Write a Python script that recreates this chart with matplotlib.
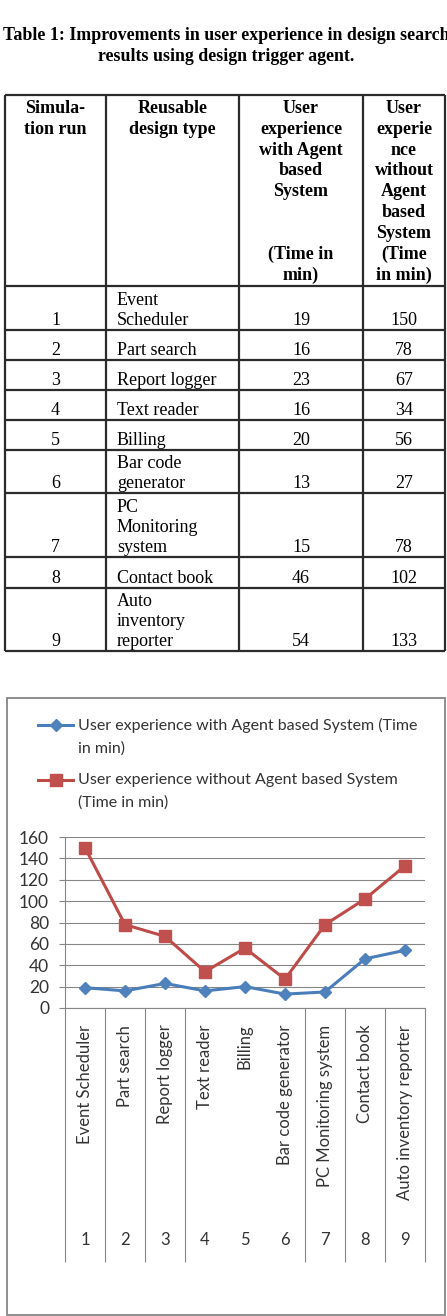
import textwrap
import numpy as np
import matplotlib
matplotlib.use("Agg")
import matplotlib.pyplot as plt
from matplotlib.patches import Rectangle
from matplotlib.lines import Line2D
from matplotlib.legend_handler import HandlerLine2D

# table / chart data
runs = [1, 2, 3, 4, 5, 6, 7, 8, 9]
design_types = ["Event\nScheduler", "Part search", "Report logger", "Text reader", "Billing",
                "Bar code\ngenerator", "PC\nMonitoring\nsystem", "Contact book",
                "Auto\ninventory\nreporter"]
with_agent = [19, 16, 23, 16, 20, 13, 15, 46, 54]
without_agent = [150, 78, 67, 34, 56, 27, 78, 102, 133]

title = ("Table 1: Improvements in user experience in design search\n"
         "results using design trigger agent.")
headers = ["Simula-\ntion run",
           "Reusable\ndesign type",
           "User\nexperience\nwith Agent\nbased\nSystem\n\n\n(Time in\nmin)",
           "User\nexperie\nnce\nwithout\nAgent\nbased\nSystem\n(Time\nin min)"]
series_names = ["User experience with Agent based System (Time in min)",
                "User experience without Agent based System (Time in min)"]
chart_labels = [d.replace("\n", " ") for d in design_types]

serif = "Liberation Serif"
sans = "Lato"
W, H = 447, 1316


class FirstLineHandler(HandlerLine2D):
    """put the legend key next to the first line of a wrapped label"""
    def __init__(self, shift, **kw):
        super().__init__(**kw)
        self.shift = shift

    def create_artists(self, legend, orig_handle, xdescent, ydescent, width, height,
                       fontsize, trans):
        arts = super().create_artists(legend, orig_handle, xdescent, ydescent, width,
                                      height, fontsize, trans)
        for a in arts:
            a.set_ydata(np.asarray(a.get_ydata(), float) + self.shift)
        return arts


fig = plt.figure(figsize=(W / 100, H / 100), dpi=100)

# ---- table drawn in pixel-like units ----
tab = fig.add_axes([0, 0, 1, 1])
tab.set_xlim(0, W)
tab.set_ylim(H, 0)
tab.axis("off")

tab.text(226, 27, title, ha="center", va="top", fontsize=12.9, fontweight="bold",
         family=serif, linespacing=1.32)

col_edges = np.array([5, 106, 239, 363, 445])
row_heights = [191, 44, 30, 30, 30, 30, 43, 64, 31, 63]
row_edges = 95 + np.concatenate([[0], np.cumsum(row_heights)])
tab.hlines(row_edges, col_edges[0], col_edges[-1], color="#2b2b2b", lw=1.6)
tab.vlines(col_edges, row_edges[0], row_edges[-1], color="#2b2b2b", lw=1.6)

col_mid = (col_edges[:-1] + col_edges[1:]) / 2
for c, h in enumerate(headers):
    tab.text(col_mid[c], row_edges[0] + 5, h, ha="center", va="top", fontsize=13,
             fontweight="bold", family=serif, linespacing=1.29, multialignment="center")

for i, r in enumerate(runs):
    yb = row_edges[i + 2] - 1
    tab.text(col_mid[0], yb, str(r), ha="center", va="bottom", fontsize=13, family=serif)
    tab.text(col_edges[1] + 11, yb, design_types[i], ha="left", va="bottom", fontsize=13,
             family=serif, linespacing=1.22)
    tab.text(col_mid[2], yb, str(with_agent[i]), ha="center", va="bottom", fontsize=13, family=serif)
    tab.text(col_mid[3], yb, str(without_agent[i]), ha="center", va="bottom", fontsize=13, family=serif)

# ---- chart ----
fig.add_artist(Rectangle((7 / W, 1 - 1315 / H), 438 / W, 617 / H, transform=fig.transFigure,
                         fill=False, ec="#868686", lw=1.3))

ax = fig.add_axes([65 / W, 1 - 1008 / H, 360 / W, 171 / H])
x = np.arange(1, len(runs) + 1)
ax.plot(x, with_agent, color="#4A7EBB", lw=2.2, marker="D", ms=6,
        mfc="#4F81BD", mec="#4F81BD", label=textwrap.fill(series_names[0], 46))
ax.plot(x, without_agent, color="#BE4B48", lw=2.2, marker="s", ms=9,
        mfc="#C0504D", mec="#C0504D", label=textwrap.fill(series_names[1], 46))

ax.set_xlim(0.5, len(runs) + 0.5)
ax.set_ylim(0, 160)
ax.set_yticks(np.arange(0, 161, 20))
ax.yaxis.grid(True, color="#868686", lw=0.8)
ax.set_axisbelow(True)
for s in ["top", "right"]:
    ax.spines[s].set_visible(False)
for s in ["left", "bottom"]:
    ax.spines[s].set_color("#868686")
    ax.spines[s].set_linewidth(0.8)
ax.tick_params(axis="y", length=4, color="#868686", width=0.8, pad=7.5,
               labelsize=12.5, labelcolor="#333333")
for t in ax.get_yticklabels():
    t.set_family(sans)

ax.set_xticks(x, chart_labels, rotation=90, va="top", ha="center",
              fontsize=12, color="#333333", family=sans)
ax.tick_params(axis="x", length=0, pad=12)

seps = [b for b in np.arange(len(runs) + 1) + 0.5 if b not in (4.5, 5.5)]
ax.vlines(seps, -1.485, 0, transform=ax.get_xaxis_transform(), clip_on=False,
          color="#868686", lw=0.8)
for xi, r in zip(x, runs):
    ax.text(xi, -1.357, str(r), transform=ax.get_xaxis_transform(), ha="center", va="center",
            fontsize=12, color="#333333", family=sans)

leg = ax.legend(loc="upper left", bbox_to_anchor=(38 / W, 1 - 718 / H),
                bbox_transform=fig.transFigure, frameon=False, borderpad=0, borderaxespad=0,
                handlelength=2.2, handletextpad=0.3, labelspacing=1.06, numpoints=1,
                prop={"family": sans, "size": 11.5},
                handler_map={Line2D: FirstLineHandler(8.3)})
for t in leg.get_texts():
    t.set_color("#333333")
    t.set_linespacing(1.75)

fig.savefig("out.png", dpi=100)
